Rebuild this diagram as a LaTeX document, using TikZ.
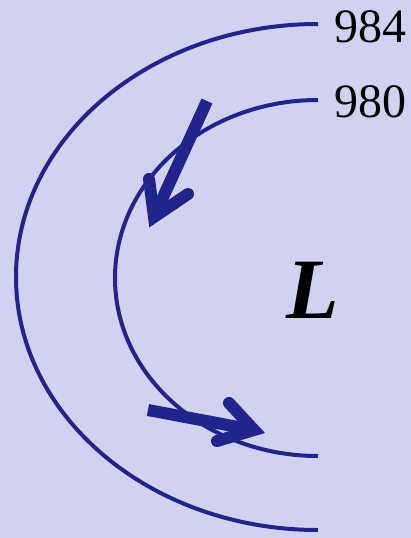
\documentclass[tikz,border=0pt]{standalone}
\usepackage{fontspec}
\setmainfont{Liberation Serif}
\usetikzlibrary{calc}
\definecolor{bgc}{RGB}{209,209,242}
\definecolor{isoc}{RGB}{35,35,140}
\begin{document}
\begin{tikzpicture}[x=1pt,y=1pt,
  isobar/.style={draw=isoc,line width=4pt},
  shaft/.style={draw=isoc,line width=12pt,line cap=butt},
  headv/.style={draw=isoc,line width=12pt,line cap=round,line join=miter},
  lbl/.style={inner sep=0pt,anchor=base west,font=\fontsize{48}{52}\selectfont}]
\fill[bgc] (0,0) rectangle (411,-538);
\useasboundingbox (0,0) rectangle (411,-538);
% isobars
\draw[isobar] (318,-24) arc[start angle=90,end angle=270,x radius=302,y radius=253];
\draw[isobar] (318,-100) arc[start angle=90,end angle=270,x radius=203,y radius=178];
% labels
\node[lbl] (p984) at (334,-42) {984};
\node[lbl] (p980) at (334,-117) {980};
\node[inner sep=0pt,anchor=base west,font=\fontsize{86}{90}\selectfont\bfseries\itshape] (low) at (286,-318) {L};
% arrow 1
\coordinate (a1s) at (207,-101);
\coordinate (a1t) at (154,-217);
\draw[shaft] (a1s) -- ($(a1s)!0.93!(a1t)$);
\draw[headv] (149,-179) -- (a1t) -- (188,-194);
% arrow 2
\coordinate (a2s) at (148,-410);
\coordinate (a2t) at (254,-430);
\draw[shaft] (a2s) -- ($(a2s)!0.93!(a2t)$);
\draw[headv] (229,-403) -- (a2t) -- (217,-441);
\end{tikzpicture}
\end{document}
